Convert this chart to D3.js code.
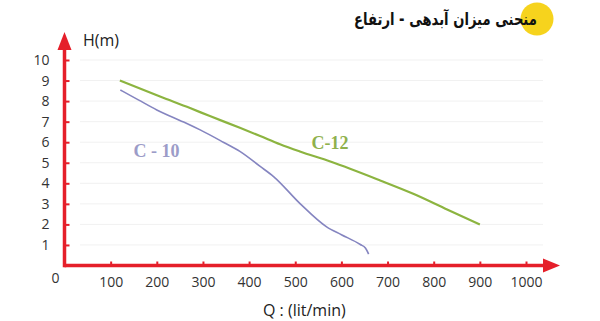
<!DOCTYPE html>
<html>
<head>
<meta charset="utf-8">
<script src="https://cdn.jsdelivr.net/npm/d3@7"></script>
<style>
	body { margin: 0; background: #fff; }
	#chart text { font-family: "Open Sans", sans-serif; }
</style>
</head>
<body>
<div id="chart"></div>
<script>
var title = "منحنی میزان آبدهی - ارتفاع";
var xTicks = [100, 200, 300, 400, 500, 600, 700, 800, 900, 1000];
var yTicks = [1, 2, 3, 4, 5, 6, 7, 8, 9, 10];

// C-12 pump: flow (lit/min) vs head (m)
var c12Q = [120, 207, 272, 315, 380, 424, 467, 510, 576, 684, 757, 829, 900];
var c12H = [9.0, 8.22, 7.66, 7.27, 6.7, 6.3, 5.9, 5.55, 5.06, 4.14, 3.48, 2.73, 2.0];

// C-10 pump
var c10Q = [121, 160, 200, 250, 272, 294, 344, 380, 424, 453, 511, 568, 600, 641, 652, 659];
var c10H = [8.54, 8.06, 7.57, 7.06, 6.84, 6.6, 6.0, 5.55, 4.82, 4.33, 3.0, 1.88, 1.5, 1.02, 0.85, 0.55];

var width = 600, height = 321;
var red = "#e51f2a";

var svg = d3.select("#chart").append("svg")
	.attr("width", width)
	.attr("height", height);

const xScale = d3.scaleLinear()
	.domain([0, 1000])
	.range([64.5, 526]);

const yScale = d3.scaleLinear()
	.domain([0, 10])
	.range([265.5, 60]);

// faint grid
svg.append("g")
	.selectAll("line")
	.data(yTicks)
	.enter()
	.append("line")
	.attr("x1", 80)
	.attr("x2", 543)
	.attr("y1", d => yScale(d))
	.attr("y2", d => yScale(d))
	.attr("stroke", "#f1f1f1")
	.attr("stroke-width", 1);

// title with yellow dot
svg.append("circle")
	.attr("cx", 537)
	.attr("cy", 19)
	.attr("r", 16.5)
	.attr("fill", "#f6d31d");

var titleText = svg.append("text")
	.attr("text-anchor", "middle")
	.style("font-family", "'DejaVu Sans', sans-serif")
	.style("font-weight", "bold")
	.style("font-size", "17px")
	.attr("fill", "#111")
	.text(title);

// squeeze the title into the same width as the original
var tw = titleText.node().getComputedTextLength();
titleText.attr("transform", "translate(445.5,25) scale(" + (183 / tw) + ",1)");

// axes
const xAxis = d3.axisBottom(xScale)
	.tickValues(xTicks)
	.tickFormat(d3.format("d"))
	.tickSize(-4)
	.tickPadding(12);

const yAxis = d3.axisLeft(yScale)
	.tickValues(yTicks)
	.tickSize(-5)
	.tickPadding(15);

var gx = svg.append("g")
	.attr("class", "xaxis")
	.attr("transform", "translate(0," + yScale(0) + ")")
	.call(xAxis);

var gy = svg.append("g")
	.attr("class", "yaxis")
	.attr("transform", "translate(" + xScale(0) + ",0)")
	.call(yAxis);

[gx, gy].forEach(function(g) {
	g.select(".domain").remove();
	g.selectAll(".tick line")
		.attr("stroke", red)
		.attr("stroke-width", 2);
	g.selectAll(".tick text")
		.attr("fill", "#333")
		.style("font-size", "14px");
});

// axis lines with arrow heads
svg.append("line")
	.attr("x1", xScale(0))
	.attr("x2", 545)
	.attr("y1", yScale(0))
	.attr("y2", yScale(0))
	.attr("stroke", red)
	.attr("stroke-width", 3.5);

svg.append("path")
	.attr("d", "M543," + (yScale(0) - 7) + "L560," + yScale(0) + "L543," + (yScale(0) + 7) + "Z")
	.attr("fill", red);

svg.append("line")
	.attr("x1", xScale(0))
	.attr("x2", xScale(0))
	.attr("y1", yScale(0) + 1.75)
	.attr("y2", 48)
	.attr("stroke", red)
	.attr("stroke-width", 3.5);

svg.append("path")
	.attr("d", "M" + (xScale(0) - 7) + ",50L" + xScale(0) + ",32L" + (xScale(0) + 7) + ",50Z")
	.attr("fill", red);

svg.append("text")
	.attr("x", xScale(0) - 13)
	.attr("y", yScale(0) + 17)
	.attr("fill", "#333")
	.style("font-size", "14px")
	.text("0");

svg.append("text")
	.attr("x", 83)
	.attr("y", 46)
	.attr("fill", "#222")
	.style("font-size", "16px")
	.text("H(m)");

svg.append("text")
	.attr("x", 263)
	.attr("y", 316)
	.attr("fill", "#222")
	.style("font-size", "16px")
	.text("Q : (lit/min)");

// curves
var line = d3.line()
	.x(d => xScale(d[0]))
	.y(d => yScale(d[1]))
	.curve(d3.curveMonotoneX);

svg.append("path")
	.datum(c12Q.map(function(q, i) { return [q, c12H[i]]; }))
	.attr("d", line)
	.attr("fill", "none")
	.attr("stroke", "#8cb440")
	.attr("stroke-width", 2.2);

svg.append("path")
	.datum(c10Q.map(function(q, i) { return [q, c10H[i]]; }))
	.attr("d", line)
	.attr("fill", "none")
	.attr("stroke", "#8585c0")
	.attr("stroke-width", 1.6);

svg.append("text")
	.attr("x", 330)
	.attr("y", 148.5)
	.attr("text-anchor", "middle")
	.style("font-family", "'Liberation Serif', serif")
	.style("font-weight", "bold")
	.style("font-size", "18px")
	.attr("fill", "#8fb14c")
	.text("C-12");

svg.append("text")
	.attr("x", 156.5)
	.attr("y", 156.5)
	.attr("text-anchor", "middle")
	.style("font-family", "'Liberation Serif', serif")
	.style("font-weight", "bold")
	.style("font-size", "18px")
	.attr("fill", "#9c9cc8")
	.text("C - 10");
</script>
</body>
</html>
